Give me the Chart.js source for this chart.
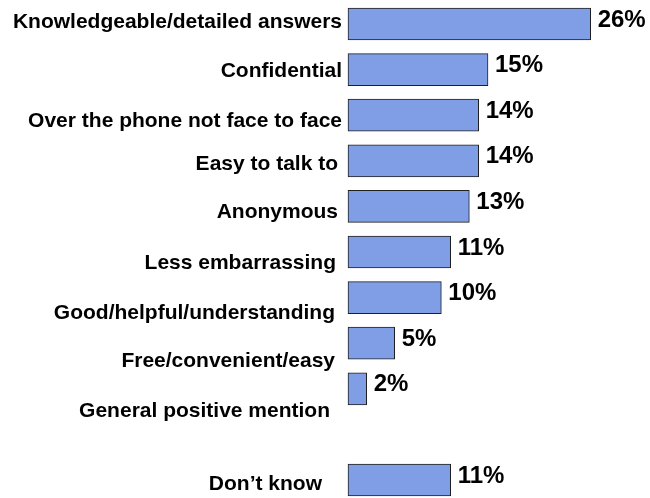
<!DOCTYPE html>
<html>
<head>
<meta charset="utf-8">
<script src="https://cdn.jsdelivr.net/npm/chart.js@4"></script>
<style>
    html, body { margin: 0; padding: 0; background: #fff; }
    #contenitore { width: 650px; height: 498px; }
</style>
</head>
<body>
<div id="contenitore"><canvas id="grafico"></canvas></div>
<script>
// Motivi citati (la riga vuota separa "Don't know")
const categorie = [
    'Knowledgeable/detailed answers',
    'Confidential',
    'Over the phone not face to face',
    'Easy to talk to',
    'Anonymous',
    'Less embarrassing',
    'Good/helpful/understanding',
    'Free/convenient/easy',
    'General positive mention',
    '',
    'Don\u2019t know'
];
const percentuali = [26, 15, 14, 14, 13, 11, 10, 5, 2, null, 11];

// Piccoli spostamenti [dx, dy] delle etichette a sinistra delle barre
const spostamentiEtichette = [
    [-6, -2], [-6, 2], [-6, 6], [-10, 3], [-10, 6],
    [-12, 11], [-13, 16], [-13, 18], [-18, 22], [0, 0], [-26, 4]
];

const FONT = '"Liberation Sans", Arial, sans-serif';

// Disegna nomi delle categorie e valori percentuali accanto alle barre
const pluginEtichette = {
    id: 'etichetteBarre',
    afterDatasetsDraw: (chart) => {
        const ctx = chart.ctx;
        const xAxis = chart.scales.x;
        const yAxis = chart.scales.y;
        ctx.save();
        ctx.fillStyle = '#000';
        ctx.textBaseline = 'middle';
        categorie.forEach((testo, i) => {
            if (!testo) return;
            const [dx, dy] = spostamentiEtichette[i];
            const yCentro = yAxis.getPixelForValue(i);

            ctx.font = 'bold 21px ' + FONT;
            ctx.textAlign = 'right';
            ctx.fillText(testo, chart.chartArea.left + dx, yCentro + dy);

            const valore = percentuali[i];
            if (valore === null || valore === undefined) return;
            ctx.font = 'bold 24px ' + FONT;
            ctx.textAlign = 'left';
            ctx.fillText(valore + '%', xAxis.getPixelForValue(valore) + 7, yCentro - 4);
        });
        ctx.restore();
    }
};

new Chart(document.getElementById('grafico'), {
    type: 'bar',
    data: {
        labels: categorie,
        datasets: [{
            data: percentuali,
            backgroundColor: '#809EE6',
            borderColor: '#1f1f1f',
            borderWidth: 1,
            borderSkipped: false,
            barThickness: 32,
            clip: false
        }]
    },
    options: {
        indexAxis: 'y',
        responsive: true,
        maintainAspectRatio: false,
        animation: false,
        layout: { padding: { left: 348, right: 22, top: 24, bottom: 18 } },
        plugins: {
            legend: { display: false },
            tooltip: { enabled: false }
        },
        scales: {
            x: { type: 'linear', min: 0, max: 30, display: false },
            y: { display: false, offset: false, grid: { display: false } }
        }
    },
    plugins: [pluginEtichette]
});
</script>
</body>
</html>
